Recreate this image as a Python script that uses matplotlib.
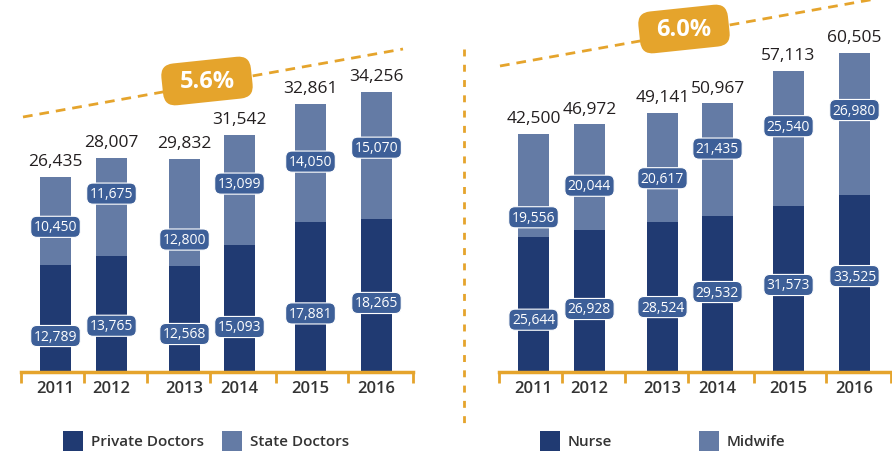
import matplotlib.pyplot as plt
from matplotlib.patches import FancyBboxPatch, Rectangle
from matplotlib.lines import Line2D
from matplotlib.transforms import Affine2D

plt.rcParams['font.family'] = ['Open Sans', 'DejaVu Sans']

years = ['2011', '2012', '2013', '2014', '2015', '2016']

private_doctors = [12789, 13765, 12568, 15093, 17881, 18265]
state_doctors = [10450, 11675, 12800, 13099, 14050, 15070]
doctor_totals = [26435, 28007, 29832, 31542, 32861, 34256]

nurse = [25644, 26928, 28524, 29532, 31573, 33525]
midwife = [19556, 20044, 20617, 21435, 25540, 26980]
nurse_totals = [42500, 46972, 49141, 50967, 57113, 60505]

doctor_growth = '5.6%'
nurse_growth = '6.0%'

# colours
DARK = '#203a72'
LIGHT = '#647ba5'
BOX = '#3d5f98'
ORANGE = '#e5a42c'
TEXT = '#231f20'

# layout (pixel units inside each panel)
W, H = 892, 452
bar_x = [34.5, 90.5, 163.5, 218.5, 289.5, 355.5]
tick_x = [0, 63, 126, 189, 255, 327, 392]
bar_w = 31
base_y = 373

# label positions as fractions of each segment
doc_dark_f = [0.335, 0.40, 0.36, 0.355, 0.39, 0.45]
doc_light_f = [0.43, 0.64, 0.25, 0.56, 0.51, 0.56]
nur_dark_f = [0.387, 0.444, 0.432, 0.514, 0.523, 0.543]
nur_light_f = [0.19, 0.42, 0.40, 0.60, 0.59, 0.60]

fig = plt.figure(figsize=(W / 100, H / 100), dpi=100)


def panel(x0, bottom_vals, top_vals, totals, px_per_unit, fd, fl):
    ax = fig.add_axes([x0 / W, (H - base_y) / H, 392 / W, base_y / H])
    ax.set_xlim(0, 392)
    ax.set_ylim(0, base_y / px_per_unit)
    ax.bar(bar_x, bottom_vals, bar_w, color=DARK, zorder=2)
    ax.bar(bar_x, top_vals, bar_w, bottom=bottom_vals, color=LIGHT, zorder=2)
    box = dict(boxstyle='round,pad=0.22,rounding_size=0.45', fc=BOX, ec='white', lw=0.8)
    for i in range(len(bar_x)):
        b, t = bottom_vals[i], top_vals[i]
        ax.text(bar_x[i], b * fd[i], f'{b:,}', ha='center', va='center', color='white',
                fontsize=10, bbox=box, zorder=4)
        ax.text(bar_x[i], b + t * fl[i], f'{t:,}', ha='center', va='center', color='white',
                fontsize=10, bbox=box, zorder=4)
        ax.annotate(f'{totals[i]:,}', (bar_x[i], b + t), xytext=(0, 8.5),
                    textcoords='offset points', ha='center', va='baseline',
                    fontsize=12.5, color=TEXT, annotation_clip=False)
    for s in ['top', 'right', 'left']:
        ax.spines[s].set_visible(False)
    ax.spines['bottom'].set_color(ORANGE)
    ax.spines['bottom'].set_linewidth(2.5)
    ax.set_yticks([])
    ax.set_xticks(tick_x)
    ax.set_xticklabels([])
    ax.tick_params(axis='x', which='major', length=8, width=2, color=ORANGE)
    ax.set_xticks(bar_x, minor=True)
    ax.set_xticklabels(years, minor=True, fontsize=12, color='#333333', fontweight='semibold')
    ax.tick_params(axis='x', which='minor', length=0, pad=6)
    ax.patch.set_alpha(0)
    return ax


panel(21, private_doctors, state_doctors, doctor_totals, 0.0084, doc_dark_f, doc_light_f)
panel(499, nurse, midwife, nurse_totals, 0.00527, nur_dark_f, nur_light_f)

# overlay in pixel coordinates for decorations
ov = fig.add_axes([0, 0, 1, 1])
ov.set_xlim(0, W)
ov.set_ylim(H, 0)
ov.axis('off')
ov.patch.set_alpha(0)

ov.add_line(Line2D([23, 403], [118, 50], color=ORANGE, lw=2, ls=(0, (3.5, 2.5))))
ov.add_line(Line2D([500, 892], [67, -3], color=ORANGE, lw=2, ls=(0, (3.5, 2.5))))
ov.add_line(Line2D([464, 464], [50, 431], color=ORANGE, lw=2, ls=(0, (2.5, 3))))

for (cx, cy), label in [((207, 82), doctor_growth), ((684, 30), nurse_growth)]:
    bw, bh = 90, 42
    p = FancyBboxPatch((cx - bw / 2, cy - bh / 2), bw, bh,
                       boxstyle='round,pad=0,rounding_size=13', fc=ORANGE, ec='none',
                       transform=Affine2D().rotate_deg_around(cx, cy, -6) + ov.transData,
                       zorder=5)
    ov.add_patch(p)
    ov.text(cx, cy, label, ha='center', va='center', color='white', fontsize=17,
            fontweight='bold', zorder=6)

legend = [(63, DARK, 'Private Doctors'), (222, LIGHT, 'State Doctors'),
          (540, DARK, 'Nurse'), (699, LIGHT, 'Midwife')]
for x, c, name in legend:
    ov.add_patch(Rectangle((x, 432), 20, 20, fc=c, ec='none'))
    ov.text(x + 28, 442, name, ha='left', va='center', fontsize=11,
            fontweight='semibold', color='#333333')

fig.savefig('out.png', dpi=100)
